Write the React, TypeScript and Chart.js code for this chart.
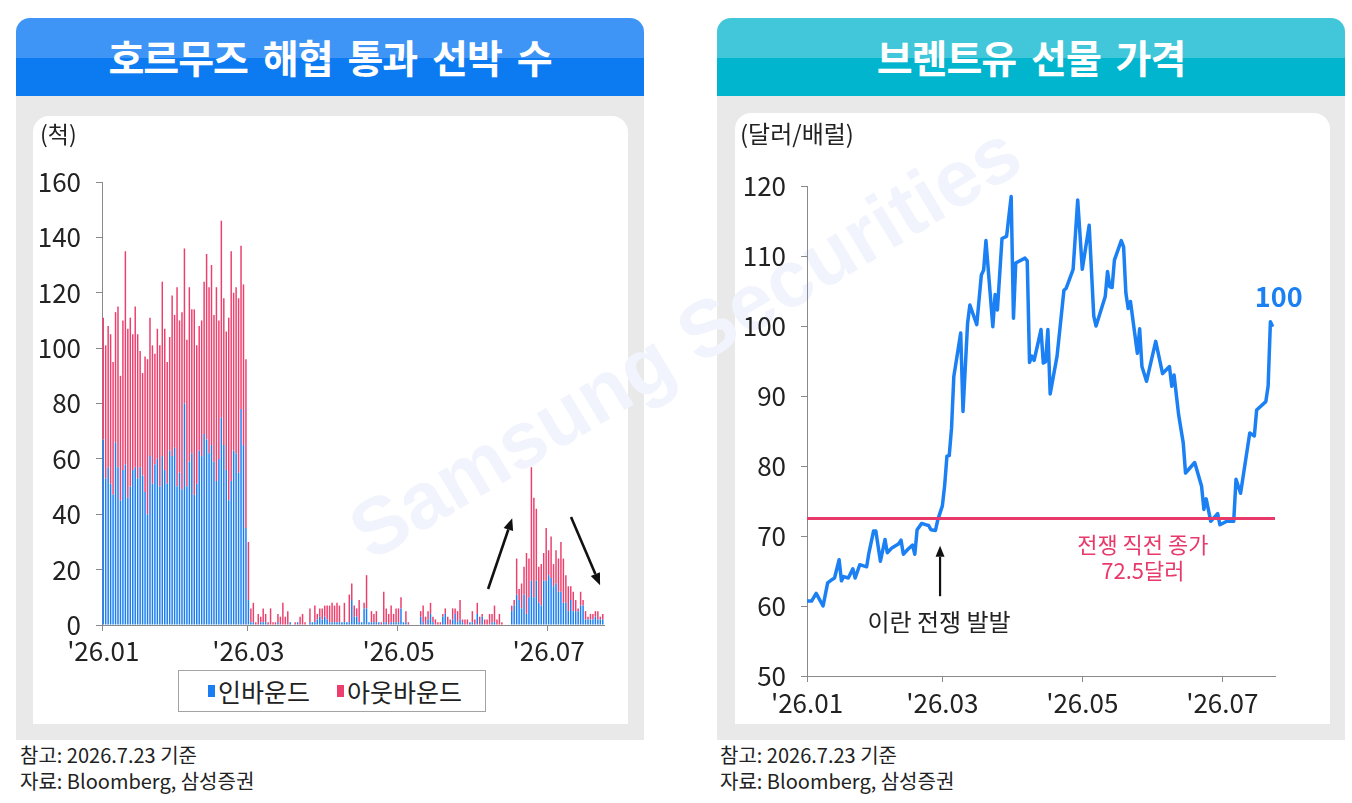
import React, { useEffect, useRef } from "react";
import { Chart, registerables } from "chart.js";

Chart.register(...registerables);

const FONT = "'Noto Sans CJK KR', 'Noto Sans', sans-serif";

// ---------- Left chart: Strait of Hormuz transits (daily, 2026-01-01 .. 2026-07-23) ----------
const shipDayCount = 204;
const inbound = [
  67, 53, 57, 51, 47, 66, 57, 45, 56, 58, 46, 50, 56, 57, 53, 57, 54, 48, 40, 61,
  51, 58, 60, 50, 61, 56, 51, 63, 61, 64, 50, 55, 49, 80, 50, 59, 62, 47, 51, 63,
  61, 69, 67, 62, 65, 59, 52, 60, 75, 65, 56, 45, 52, 63, 62, 55, 78, 65, 35,
  9,
  1, 1, 0, 0, 1, 1, 1, 0, 0, 0,
  0, 1, 0, 0, 0, 0, 1, 0, 0, 1,
  0, 0, 0, 0, 1, 1, 1, 2, 3, 2,
  3, 2, 1, 1, 1, 1, 1, 1, 1, 1,
  1, 9, 3, 3, 1, 1, 6, 6, 1, 1,
  1, 1, 1, 0, 1, 1, 0, 1, 1, 1,
  1, 6, 1, 1, 0, 0, 0, 0, 0, 3,
  1, 0, 2, 4, 1, 0, 0, 0, 3, 4,
  0, 0, 2, 4, 1, 2, 1, 0, 0, 1,
  1, 0, 4, 0, 3, 0, 0, 0, 1, 1,
  0, 0, 0, 0, 0, 0, 5, 7, 11, 9,
  6, 11, 4, 10, 16, 10, 16, 8, 7, 16,
  16, 18, 17, 14, 15, 12, 12, 8, 8, 5,
  9, 5, 5, 5, 7, 7, 2, 2, 2, 2,
  3, 2, 2, 2,
];
const outbound = [
  44, 48, 51, 54, 48, 47, 58, 45, 54, 77, 61, 61, 49, 58, 52, 42, 37, 49, 56, 50,
  50, 40, 47, 51, 63, 51, 44, 41, 58, 48, 72, 55, 64, 56, 53, 63, 52, 67, 50, 45,
  49, 55, 67, 60, 65, 53, 70, 50, 71, 53, 50, 66, 83, 57, 60, 63, 59, 58, 61,
  21,
  5, 7, 1, 4, 2, 5, 3, 1, 6, 1,
  1, 3, 3, 8, 3, 5, 0, 0, 1, 0,
  3, 4, 1, 0, 5, 0, 6, 2, 3, 4,
  4, 5, 6, 7, 6, 7, 6, 0, 7, 0,
  10, 6, 4, 3, 8, 0, 2, 12, 0, 4,
  3, 4, 0, 1, 11, 5, 4, 6, 3, 5,
  5, 4, 0, 4, 1, 0, 0, 0, 0, 2,
  6, 3, 3, 4, 2, 2, 1, 1, 1, 2,
  3, 2, 4, 2, 4, 7, 1, 2, 2, 0,
  4, 2, 4, 3, 1, 2, 2, 4, 3, 6,
  2, 4, 1, 0, 0, 0, 2, 2, 13, 4,
  9, 10, 22, 14, 41, 36, 26, 13, 15, 10,
  19, 9, 15, 8, 12, 12, 18, 16, 10, 9,
  5, 7, 4, 1, 5, 2, 3, 1, 2, 2,
  2, 3, 1, 2,
];
const monthTickDates = ["2026-01-01", "2026-03-01", "2026-05-01", "2026-07-01"];
const monthTickLabels = ["'26.01", "'26.03", "'26.05", "'26.07"];
const shipYMax = 160;
const shipYStep = 20;
// trend arrows: [fromDay, fromValue, toDay, toValue]
const shipArrows = [
  [156.4, 13, 166.2, 38.6],
  [190.1, 39, 201.9, 14.4],
];

// ---------- Right chart: Brent futures (USD/bbl) ----------
const oilDates = [
  "01-01", "01-03", "01-05", "01-08", "01-10", "01-12", "01-13", "01-15", "01-16", "01-17",
  "01-19", "01-21", "01-22", "01-24", "01-27", "01-28", "01-30", "01-31", "02-02", "02-04",
  "02-05", "02-07", "02-10", "02-11", "02-12", "02-14", "02-16", "02-17", "02-18", "02-20",
  "02-22", "02-23", "02-24", "02-26", "02-27", "03-01", "03-02", "03-03", "03-04", "03-05",
  "03-06", "03-09", "03-10", "03-12", "03-13", "03-16", "03-18", "03-19", "03-20", "03-23",
  "03-24", "03-25", "03-27", "03-29", "03-31", "04-01", "04-02", "04-06", "04-07", "04-08",
  "04-09", "04-10", "04-12", "04-13", "04-14", "04-15", "04-16", "04-17", "04-20", "04-23",
  "04-24", "04-27", "04-29", "05-01", "05-04", "05-06", "05-07", "05-11", "05-12", "05-13",
  "05-14", "05-15", "05-18", "05-19", "05-20", "05-21", "05-22", "05-25", "05-26", "05-27",
  "05-29", "06-02", "06-05", "06-08", "06-09", "06-10", "06-12", "06-14", "06-15", "06-19",
  "06-22", "06-23", "06-24", "06-26", "06-29", "06-30", "07-03", "07-06", "07-07", "07-09",
  "07-13", "07-15", "07-16", "07-20", "07-21", "07-22", "07-23",
];
const oilPrices = [
  60.7, 60.7, 61.8, 60.0, 63.3, 63.8, 64.0, 66.6, 63.6, 64.2,
  64.0, 65.3, 64.0, 65.9, 65.6, 67.6, 70.7, 70.7, 66.4, 69.5,
  67.6, 68.3, 68.9, 69.4, 67.4, 68.1, 68.7, 67.4, 70.9, 71.8,
  71.6, 71.5, 70.9, 70.8, 72.3, 74.3, 77.2, 81.4, 81.5, 85.4,
  92.8, 99.0, 87.8, 100.4, 103.0, 100.2, 107.3, 108.0, 112.2, 99.9,
  104.5, 102.3, 112.5, 112.8, 118.5, 101.1, 109.0, 109.7, 109.3, 94.8,
  95.7, 95.1, 98.0, 99.5, 94.7, 94.9, 99.5, 90.3, 95.7, 105.1,
  105.4, 108.1, 118.0, 108.1, 114.4, 101.4, 100.0, 104.2, 107.8, 105.6,
  105.5, 109.4, 112.2, 111.3, 104.7, 102.5, 103.5, 96.1, 99.6, 94.2,
  92.1, 97.8, 93.2, 94.2, 91.4, 93.0, 87.3, 83.3, 79.0, 80.5,
  77.1, 73.8, 75.3, 72.1, 73.2, 71.6, 72.1, 72.1, 78.1, 76.1,
  84.7, 84.3, 88.0, 89.2, 91.4, 100.6, 99.9,
];
const oilYear = 2026;
const oilAxisEnd = "2026-07-24";
const oilYMin = 50;
const oilYMax = 120;
const oilYStep = 10;
const preWarClose = 72.5;
const warStart = "2026-02-28";
const latestLabel = "100";

const BLUE = "#1a7ef2";
const PINK = "#ec3f6d";
const LINE_BLUE = "#1b80f4";
const RED = "#e83a6a";
const AXIS = "#8a8a8a";
const TEXT = "#222";

const dayIndex = (iso: string) => {
  const [y, m, d] = iso.split("-").map(Number);
  return Math.round((Date.UTC(y, m - 1, d) - Date.UTC(2026, 0, 1)) / 86400000);
};
const isoFromIndex = (i: number) => {
  const t = new Date(Date.UTC(2026, 0, 1) + i * 86400000);
  return t.toISOString().slice(0, 10);
};

function drawArrow(ctx: CanvasRenderingContext2D, x0: number, y0: number, x1: number, y1: number, lw: number, head: number, half: number) {
  const a = Math.atan2(y1 - y0, x1 - x0);
  const bx = x1 - head * Math.cos(a);
  const by = y1 - head * Math.sin(a);
  ctx.save();
  ctx.strokeStyle = "#111";
  ctx.fillStyle = "#111";
  ctx.lineWidth = lw;
  ctx.beginPath();
  ctx.moveTo(x0, y0);
  ctx.lineTo(bx, by);
  ctx.stroke();
  ctx.beginPath();
  ctx.moveTo(x1, y1);
  ctx.lineTo(bx + half * Math.sin(a), by - half * Math.cos(a));
  ctx.lineTo(bx - half * Math.sin(a), by + half * Math.cos(a));
  ctx.closePath();
  ctx.fill();
  ctx.restore();
}

export default function App() {
  const leftRef = useRef<HTMLCanvasElement>(null);
  const rightRef = useRef<HTMLCanvasElement>(null);

  useEffect(() => {
    Chart.defaults.font.family = FONT;
    Chart.defaults.color = TEXT;

    const labels = Array.from({ length: shipDayCount }, (_, i) => isoFromIndex(i));
    const tickIdx = monthTickDates.map(dayIndex);

    const shipArrowPlugin = {
      id: "shipArrows",
      afterDatasetsDraw(chart: any) {
        const { ctx, scales } = chart;
        shipArrows.forEach(([d0, v0, d1, v1]) => {
          drawArrow(
            ctx,
            scales.x.getPixelForValue(d0),
            scales.y.getPixelForValue(v0),
            scales.x.getPixelForValue(d1),
            scales.y.getPixelForValue(v1),
            2.6,
            12,
            5
          );
        });
      },
    };

    const left = new Chart(leftRef.current!, {
      type: "bar",
      data: {
        labels,
        datasets: [
          { label: "인바운드", data: inbound, backgroundColor: BLUE, borderWidth: 0, barPercentage: 0.6, categoryPercentage: 1 },
          { label: "아웃바운드", data: outbound, backgroundColor: PINK, borderWidth: 0, barPercentage: 0.6, categoryPercentage: 1 },
        ],
      },
      options: {
        animation: false,
        responsive: false,
        devicePixelRatio: 1,
        layout: { padding: { top: 66, right: 24, left: 0, bottom: 0 } },
        plugins: { legend: { display: false }, tooltip: { enabled: false } },
        scales: {
          x: {
            stacked: true,
            offset: true,
            afterFit: (s: any) => { s.height = 99; },
            grid: {
              offset: true,
              drawOnChartArea: false,
              drawTicks: true,
              tickLength: 6,
              color: (c: any) => (tickIdx.includes(c.index) ? AXIS : "rgba(0,0,0,0)"),
            },
            border: { display: true, color: AXIS, width: 1 },
            ticks: {
              autoSkip: false,
              maxRotation: 0,
              minRotation: 0,
              padding: 5,
              font: { size: 26 },
              color: TEXT,
              callback: (_v: any, i: number) => {
                const k = tickIdx.indexOf(i);
                return k >= 0 ? monthTickLabels[k] : "";
              },
            },
          },
          y: {
            stacked: true,
            min: 0,
            max: shipYMax,
            afterFit: (s: any) => { s.width = 69; },
            grid: { drawOnChartArea: false, tickLength: 6, color: AXIS },
            border: { display: true, color: AXIS, width: 1 },
            ticks: { stepSize: shipYStep, padding: 15, font: { size: 26 }, color: TEXT },
          },
        },
      },
      plugins: [shipArrowPlugin],
    });

    const oilPoints = oilDates.map((d, i) => ({ x: dayIndex(`${oilYear}-${d}`), y: oilPrices[i] }));
    const xMax = dayIndex(oilAxisEnd);
    const warDay = dayIndex(warStart);

    const oilNotes = {
      id: "oilNotes",
      afterDatasetsDraw(chart: any) {
        const { ctx, scales } = chart;
        const xs = scales.x;
        const ys = scales.y;
        const wx = xs.getPixelForValue(warDay);
        drawArrow(ctx, wx, ys.getPixelForValue(61.4), wx, ys.getPixelForValue(68.6), 2.2, 11, 4.5);
        ctx.save();
        ctx.textAlign = "center";
        ctx.textBaseline = "middle";
        ctx.fillStyle = TEXT;
        ctx.font = `24px ${FONT}`;
        ctx.fillText("이란 전쟁 발발", wx - 1, ys.getPixelForValue(57.8));
        ctx.fillStyle = RED;
        ctx.font = `22px ${FONT}`;
        const rx = xs.getPixelForValue(146.4);
        ctx.fillText("전쟁 직전 종가", rx, ys.getPixelForValue(68.8));
        ctx.fillText(`${preWarClose}달러`, rx, ys.getPixelForValue(65.1));
        const last = oilPoints[oilPoints.length - 1];
        ctx.fillStyle = LINE_BLUE;
        ctx.font = `bold 27px ${FONT}`;
        ctx.fillText(latestLabel, xs.getPixelForValue(last.x) + 6, ys.getPixelForValue(last.y) - 30);
        ctx.restore();
      },
    };

    const right = new Chart(rightRef.current!, {
      type: "line",
      data: {
        datasets: [
          {
            label: "전쟁 직전 종가",
            data: [
              { x: 0, y: preWarClose },
              { x: xMax, y: preWarClose },
            ],
            borderColor: RED,
            borderWidth: 3,
            pointRadius: 0,
            order: 0,
          },
          {
            label: "브렌트유",
            data: oilPoints,
            borderColor: LINE_BLUE,
            borderWidth: 3.5,
            pointRadius: 0,
            tension: 0,
            borderJoinStyle: "round",
            order: 1,
          },
        ],
      },
      options: {
        animation: false,
        responsive: false,
        devicePixelRatio: 1,
        layout: { padding: { top: 73, right: 55, left: 0, bottom: 0 } },
        plugins: { legend: { display: false }, tooltip: { enabled: false } },
        scales: {
          x: {
            type: "linear",
            min: 0,
            max: xMax,
            afterFit: (s: any) => { s.height = 48; },
            afterBuildTicks: (s: any) => {
              s.ticks = monthTickDates.map((d) => ({ value: dayIndex(d) }));
            },
            grid: { drawOnChartArea: false, tickLength: 6, color: AXIS },
            border: { display: true, color: AXIS, width: 1 },
            ticks: {
              maxRotation: 0,
              minRotation: 0,
              padding: 6,
              font: { size: 26 },
              color: TEXT,
              callback: (v: any) => {
                const k = monthTickDates.map(dayIndex).indexOf(Number(v));
                return k >= 0 ? monthTickLabels[k] : "";
              },
            },
          },
          y: {
            min: oilYMin,
            max: oilYMax,
            afterFit: (s: any) => { s.width = 72; },
            grid: { drawOnChartArea: false, tickLength: 6, color: AXIS },
            border: { display: true, color: AXIS, width: 1 },
            ticks: { stepSize: oilYStep, padding: 15, font: { size: 26 }, color: TEXT },
          },
        },
      },
      plugins: [oilNotes],
    });

    return () => {
      left.destroy();
      right.destroy();
    };
  }, []);

  const abs = (l: number, t: number, w: number, h: number, extra: any = {}) => ({
    position: "absolute" as const,
    left: l,
    top: t,
    width: w,
    height: h,
    ...extra,
  });

  const titleStyle = {
    position: "absolute" as const,
    left: 0,
    right: 0,
    top: 0,
    bottom: 0,
    display: "flex",
    alignItems: "center",
    justifyContent: "center",
    color: "#fff",
    fontWeight: 700,
    fontSize: 39,
    letterSpacing: -1,
    wordSpacing: 7,
    paddingBottom: 3,
    boxSizing: "border-box" as const,
  };

  return (
    <div
      style={{
        position: "fixed",
        left: 0,
        top: 0,
        width: 1352,
        height: 803,
        background: "#fff",
        overflow: "hidden",
        fontFamily: FONT,
        color: TEXT,
      }}
    >
      {/* Left panel */}
      <div style={abs(16, 18, 628, 78, { borderRadius: "14px 14px 0 0", background: "linear-gradient(to bottom, #3e95f6 0%, #3e95f6 51%, #0c7bf2 51%, #0c7bf2 100%)" })}>
        <div style={titleStyle}>호르무즈 해협 통과 선박 수</div>
      </div>
      <div style={abs(16, 96, 628, 644, { background: "#e9e9e9" })} />
      <div style={abs(33, 116, 595, 608, { background: "#fff", borderRadius: "16px 16px 0 0" })} />

      {/* Right panel */}
      <div style={abs(717, 18, 628, 78, { borderRadius: "14px 14px 0 0", background: "linear-gradient(to bottom, #42c6d9 0%, #42c6d9 51%, #00b5cd 51%, #00b5cd 100%)" })}>
        <div style={titleStyle}>브렌트유 선물 가격</div>
      </div>
      <div style={abs(717, 96, 628, 644, { background: "#e9e9e9" })} />
      <div style={abs(735, 113, 595, 611, { background: "#fff", borderRadius: "16px 16px 0 0" })} />

      {/* Watermark */}
      <div
        style={{
          position: "absolute",
          left: 685,
          top: 342,
          transform: "translate(-50%, -50%) rotate(-31deg)",
          fontFamily: "'Liberation Sans', Arial, sans-serif",
          fontWeight: 700,
          fontSize: 80,
          color: "#f1f4fd",
          whiteSpace: "nowrap",
          pointerEvents: "none",
        }}
      >
        Samsung Securities
      </div>

      {/* Canvases */}
      <canvas ref={leftRef} width={595} height={608} style={abs(33, 116, 595, 608)} />
      <canvas ref={rightRef} width={595} height={611} style={abs(735, 113, 595, 611)} />

      {/* Unit labels */}
      <div style={abs(40, 119, 80, 28, { fontSize: 23, lineHeight: "28px" })}>(척)</div>
      <div style={abs(740, 119, 170, 28, { fontSize: 24, lineHeight: "28px" })}>(달러/배럴)</div>

      {/* Legend (left) */}
      <div
        style={abs(178, 670, 308, 42, {
          boxSizing: "border-box",
          border: "1px solid #a3a3a3",
          background: "#fff",
          display: "flex",
          alignItems: "center",
          justifyContent: "center",
          gap: 27,
          fontSize: 25,
          lineHeight: "28px",
          paddingLeft: 6,
        })}
      >
        <span style={{ display: "flex", alignItems: "center" }}>
          <span style={{ display: "inline-block", width: 7, height: 12, background: BLUE, marginRight: 3 }} />
          인바운드
        </span>
        <span style={{ display: "flex", alignItems: "center" }}>
          <span style={{ display: "inline-block", width: 7, height: 12, background: PINK, marginRight: 3 }} />
          아웃바운드
        </span>
      </div>

      {/* Footnotes */}
      <div style={abs(20, 742, 400, 26, { fontSize: 20, lineHeight: "26px" })}>참고: 2026.7.23 기준</div>
      <div style={abs(20, 768, 400, 26, { fontSize: 20, lineHeight: "26px" })}>자료: Bloomberg, 삼성증권</div>
      <div style={abs(720, 742, 400, 26, { fontSize: 20, lineHeight: "26px" })}>참고: 2026.7.23 기준</div>
      <div style={abs(720, 768, 400, 26, { fontSize: 20, lineHeight: "26px" })}>자료: Bloomberg, 삼성증권</div>
    </div>
  );
}
